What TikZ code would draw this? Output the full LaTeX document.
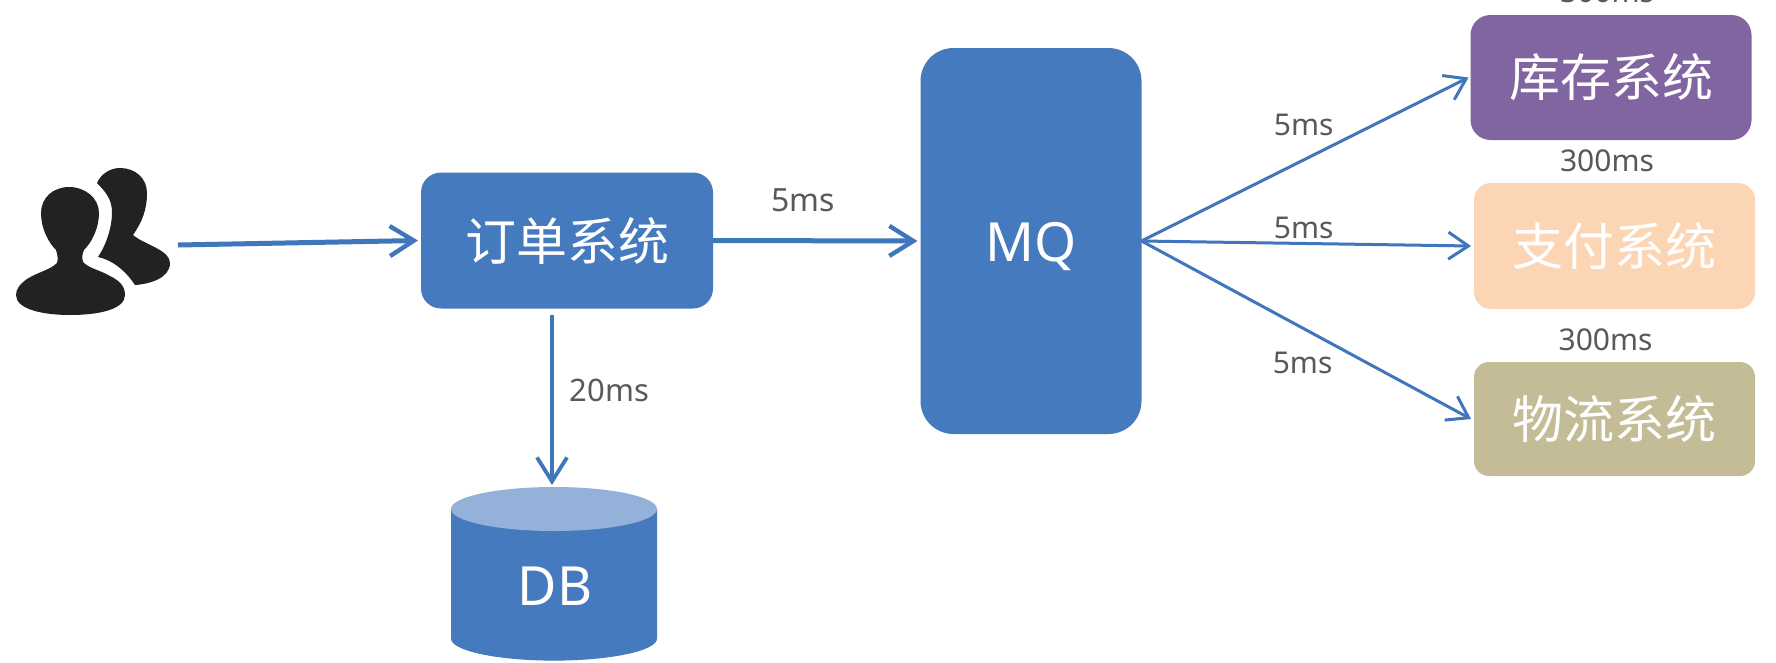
\documentclass[tikz,border=0pt]{standalone}
\usepackage{fontspec}
\setmainfont{Noto Sans}
\newfontfamily\cjkfont{Noto Sans CJK SC}
\usetikzlibrary{arrows.meta,calc}
\definecolor{boxblue}{HTML}{467ABF}
\definecolor{dbtop}{HTML}{93B1D9}
\definecolor{arrowblue}{HTML}{3F76BC}
\definecolor{boxpurple}{HTML}{8165A1}
\definecolor{boxpeach}{HTML}{FCD5B5}
\definecolor{boxtan}{HTML}{C4BC97}
\definecolor{labelgrey}{HTML}{595959}
\definecolor{iconblack}{HTML}{222222}
\tikzset{
  x=1pt,y=-1pt,
  panel/.style={inner sep=0pt,outer sep=0pt,text=white,fill=boxblue,rounded corners=20pt},
  cjklabel/.style={font=\cjkfont\fontsize{51}{56}\selectfont},
  latinlabel/.style={font=\fontsize{54}{60}\selectfont},
  timing/.style={inner sep=0pt,text=labelgrey,font=\fontsize{30}{34}\selectfont},
  heavyarrow/.style={draw=arrowblue,line width=5pt,-{Straight Barb[length=24pt,width=30pt,line width=4.4pt]}},
  midarrow/.style={draw=arrowblue,line width=4pt,-{Straight Barb[length=24pt,width=30pt,line width=3.8pt]}},
  thinarrow/.style={draw=arrowblue,line width=3pt,-{Straight Barb[length=20pt,width=27pt,line width=3pt]}},
  ghost/.style={inner sep=0pt,outer sep=0pt}
}
\begin{document}
\begin{tikzpicture}
\useasboundingbox (0,0) rectangle (1776,662);
\clip (0,0) rectangle (1776,662);
\fill[white] (0,0) rectangle (1776,662);

% people icon
\node[ghost,minimum width=155pt,minimum height=148pt] (users) at (93.5,242) {};
\fill[iconblack] (120,168) .. controls (110,168) and (101,174) .. (97,183)
  .. controls (106,192) and (112,200) .. (112,212)
  .. controls (112,228) and (106,245) .. (98,257)
  .. controls (112,260) and (125,270) .. (135,285)
  .. controls (150,284) and (170,278) .. (170,263)
  .. controls (170,250) and (145,245) .. (133,235)
  .. controls (142,222) and (147,210) .. (147,193)
  .. controls (147,178) and (135,168) .. (120,168) -- cycle;
\fill[iconblack] (69,187) .. controls (53,187) and (41,198) .. (41,213)
  .. controls (41,228) and (48,242) .. (56,250)
  .. controls (58,256) and (58,260) .. (57,263)
  .. controls (50,270) and (38,272) .. (27,279)
  .. controls (20,284) and (16,289) .. (16,295)
  .. controls (16,309) and (42,315) .. (70,315)
  .. controls (100,315) and (125,309) .. (125,295)
  .. controls (125,285) and (118,280) .. (110,276)
  .. controls (100,270) and (90,269) .. (83,262)
  .. controls (82,258) and (82,254) .. (84,250)
  .. controls (92,242) and (99,228) .. (99,213)
  .. controls (99,198) and (85,187) .. (69,187) -- cycle;

% boxes
\node[panel,cjklabel,minimum width=292pt,minimum height=136pt] (order) at (567,240.5) {订单系统};
\node[panel,latinlabel,minimum width=221pt,minimum height=386pt,rounded corners=33pt] (mq) at (1031,241) {\raisebox{-20pt}[0pt][0pt]{MQ}};
\node[panel,cjklabel,fill=boxpurple,minimum width=281pt,minimum height=125pt] (stock) at (1611,77.5) {库存系统};
\node[panel,cjklabel,fill=boxpeach,minimum width=281pt,minimum height=126pt,rounded corners=17pt] (pay) at (1614.5,246) {支付系统};
\node[panel,cjklabel,fill=boxtan,minimum width=281pt,minimum height=114pt,rounded corners=15pt] (logi) at (1614.5,419) {物流系统};

% database
\fill[boxblue] (451,509) -- (451,638.6) arc[start angle=180,end angle=360,x radius=103,y radius=-22] -- (657,509) -- cycle;
\fill[dbtop] (554,509) ellipse[x radius=103,y radius=22];
\node[ghost,minimum width=206pt,minimum height=174pt] (db) at (554,574) {};
\node[ghost,text=white,latinlabel] (dbtext) at (555,586) {DB};

% connectors
\draw[heavyarrow] ($(users.east)+(7,3)$) -- ($(order.west)+(-3,0)$);
\draw[heavyarrow] (order.east) -- ($(mq.west)+(-3,0)$);
\draw[midarrow] ($(order.south)+(-15,6)$) -- ($(db.north)+(-2,-2)$);
\draw[thinarrow] (mq.east) -- ($(stock.west)+(-2,0)$);
\draw[thinarrow] (mq.east) -- ($(pay.west)+(-3,0)$);
\draw[thinarrow] (mq.east) -- ($(logi.west)+(-3,0)$);

% timing labels
\node[timing,font=\fontsize{32}{36}\selectfont] (t1) at (803,200) {5ms};
\node[timing,font=\fontsize{31}{36}\selectfont] (t2) at (609.5,390) {20ms};
\node[timing] (t3) at (1303.7,125) {5ms};
\node[timing] (t4) at (1303.7,228) {5ms};
\node[timing] (t5) at (1302.6,363) {5ms};
\node[timing] (t6) at (1607,-8) {300ms};
\node[timing] (t7) at (1607,160.5) {300ms};
\node[timing] (t8) at (1605.6,340) {300ms};
\end{tikzpicture}
\end{document}
